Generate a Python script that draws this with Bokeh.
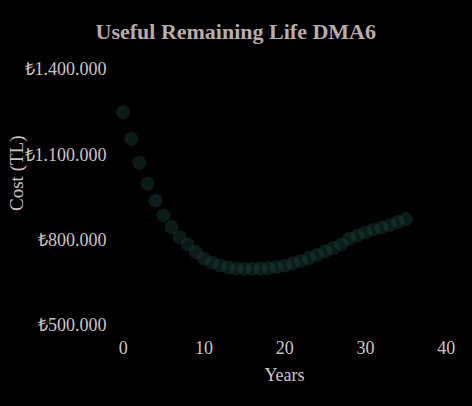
import math
from bokeh.plotting import figure
from bokeh.models import Range1d, FixedTicker, Title, ColumnDataSource
from bokeh.embed import file_html
from bokeh.resources import INLINE

# ---- data ----
years = list(range(0, 36))
cost = [1250000, 1156000, 1072000, 998000, 939000, 887000, 846000, 810000,
        785000, 758000, 735000, 721000, 711000, 704000, 700000, 699000,
        699000, 700000, 702000, 706000, 711000, 718000, 727000, 737000,
        748000, 760000, 772000, 785000, 806000, 816000, 827000, 836000,
        844000, 853000, 864000, 874000]
x_ticks = [0, 10, 20, 30, 40]
y_ticks = [500000, 800000, 1100000, 1400000]
y_tick_labels = ["₺500.000", "₺800.000", "₺1.100.000", "₺1.400.000"]
title_text = "Useful Remaining Life DMA6"
x_label = "Years"
y_label = "Cost (TL)"

FONT = "Liberation Serif"
TXT = "#cfc4c4"

X0, X1 = -1.325, 41.28
Y0, Y1 = 464800, 1449200

src = ColumnDataSource(dict(x=years, y=cost))

p = figure(width=466, height=400, output_backend="svg", toolbar_location=None,
           x_range=Range1d(X0, X1), y_range=Range1d(Y0, Y1),
           background_fill_color="black", border_fill_color="black",
           outline_line_color=None, min_border_left=112, min_border_right=10,
           min_border_top=55, min_border_bottom=65)

p.scatter("x", "y", source=src, size=14, fill_color="#1d4743", fill_alpha=0.38,
          line_color=None)

p.title.text = title_text
p.title.text_font = FONT
p.title.text_font_size = "22px"
p.title.text_font_style = "bold"
p.title.text_color = "#baabab"
p.title.align = "left"
p.title.offset = -17
p.title.standoff = 24

p.xgrid.visible = False
p.ygrid.visible = False

for ax in (p.xaxis[0], p.yaxis[0]):
    ax.axis_line_color = None
    ax.major_tick_line_color = None
    ax.minor_tick_line_color = None
    ax.major_tick_out = 0
    ax.major_tick_in = 0
    ax.minor_tick_out = 0
    ax.minor_tick_in = 0
    ax.major_label_text_font = FONT
    ax.major_label_text_font_size = "18px"
    ax.major_label_text_color = TXT
    ax.major_label_standoff = 6

p.xaxis[0].major_label_standoff = 5
p.xaxis[0].ticker = FixedTicker(ticks=x_ticks)
p.yaxis[0].ticker = FixedTicker(ticks=y_ticks)
p.yaxis[0].major_label_overrides = {t: l for t, l in zip(y_ticks, y_tick_labels)}

p.xaxis[0].axis_label = x_label
p.xaxis[0].axis_label_text_font = FONT
p.xaxis[0].axis_label_text_font_size = "18px"
p.xaxis[0].axis_label_text_font_style = "normal"
p.xaxis[0].axis_label_text_color = TXT
p.xaxis[0].axis_label_standoff = 8

# y-axis title, drawn as a vertical title in the left panel, overlapping the tick labels
ytitle = Title(text=y_label, align="right", offset=80, vertical_align="middle",
               standoff=-13, text_font=FONT, text_font_size="19px",
               text_font_style="normal", text_color=TXT)
p.add_layout(ytitle, "left")

html = file_html(p, INLINE)
html = html.replace("<body>", "<body style=\"background-color:black;\">")
open("out.html", "w").write(html)
